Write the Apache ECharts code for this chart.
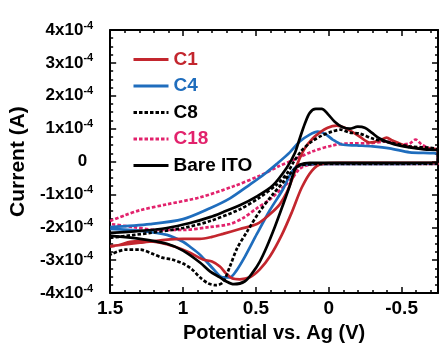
<!DOCTYPE html>
<html><head><meta charset="utf-8">
<script src="https://cdn.jsdelivr.net/npm/echarts@6/dist/echarts.min.js"></script>
<style>html,body{margin:0;padding:0;background:#fff}#c{width:439px;height:348px}</style>
</head><body><div id="c"></div><script>
// Potential (V) vs current (units of 1e-4 A); each loop: forward branch 1.5 -> -0.75, then return
const c1 = [[1.5,-2.57],[1.295,-2.47],[1.123,-2.38],[1.0,-2.35],[0.884,-2.35],[0.801,-2.29],[0.726,-2.20],[0.610,-2.05],[0.493,-1.90],[0.404,-1.60],[0.336,-1.30],[0.288,-0.94],[0.247,-0.49],[0.212,-0.04],[0.164,0.40],[0.110,0.70],[0.062,0.88],[0.007,1.03],[-0.055,1.09],[-0.110,1.03],[-0.158,0.91],[-0.212,0.76],[-0.281,0.58],[-0.349,0.64],[-0.397,0.73],[-0.438,0.64],[-0.521,0.49],[-0.623,0.40],[-0.75,0.34],
  [-0.75,-0.04],[-0.486,-0.04],[-0.075,-0.04],[0.048,-0.07],[0.116,-0.28],[0.185,-0.79],[0.253,-1.54],[0.322,-2.23],[0.404,-2.89],[0.473,-3.28],[0.541,-3.52],[0.610,-3.58],[0.664,-3.55],[0.705,-3.40],[0.747,-3.19],[0.801,-3.04],[0.863,-2.98],[0.952,-2.77],[1.055,-2.59],[1.158,-2.47],[1.260,-2.41],[1.363,-2.44],[1.432,-2.53],[1.5,-2.59]];
const c4 = [[1.5,-1.99],[1.226,-1.90],[1.0,-1.75],[0.815,-1.42],[0.678,-1.12],[0.541,-0.70],[0.438,-0.37],[0.356,-0.07],[0.267,0.28],[0.199,0.61],[0.130,0.82],[0.075,0.91],[0.027,0.85],[-0.027,0.67],[-0.089,0.52],[-0.192,0.49],[-0.301,0.46],[-0.418,0.40],[-0.555,0.28],[-0.75,0.22],
  [-0.75,-0.04],[-0.486,-0.07],[-0.007,-0.07],[0.199,-0.10],[0.253,-0.31],[0.315,-0.85],[0.404,-1.48],[0.493,-2.20],[0.575,-2.89],[0.637,-3.34],[0.678,-3.52],[0.726,-3.52],[0.795,-3.25],[0.884,-2.83],[0.952,-2.59],[1.0,-2.44],[1.110,-2.23],[1.295,-2.11],[1.5,-2.05]];
const c8 = [[1.5,-2.32],[1.226,-2.17],[1.0,-2.02],[0.815,-1.81],[0.610,-1.45],[0.473,-1.09],[0.356,-0.70],[0.288,-0.37],[0.240,-0.01],[0.185,0.34],[0.116,0.61],[0.048,0.79],[-0.021,0.91],[-0.082,0.97],[-0.144,0.88],[-0.212,0.85],[-0.301,0.70],[-0.418,0.58],[-0.555,0.46],[-0.75,0.34],
  [-0.75,-0.07],[-0.349,-0.07],[0.062,-0.07],[0.199,-0.13],[0.253,-0.31],[0.315,-0.64],[0.384,-1.00],[0.473,-1.51],[0.562,-2.14],[0.630,-2.65],[0.678,-3.19],[0.726,-3.67],[0.774,-3.76],[0.829,-3.70],[0.884,-3.52],[0.938,-3.28],[1.0,-3.10],[1.075,-2.98],[1.144,-2.92],[1.212,-2.80],[1.295,-2.68],[1.397,-2.68],[1.5,-2.83]];
const c18 = [[1.5,-1.81],[1.397,-1.63],[1.295,-1.48],[1.110,-1.30],[0.884,-1.09],[0.658,-0.76],[0.473,-0.43],[0.336,-0.13],[0.247,0.04],[0.110,0.31],[-0.027,0.49],[-0.144,0.55],[-0.260,0.55],[-0.397,0.61],[-0.486,0.52],[-0.555,0.55],[-0.596,0.67],[-0.637,0.52],[-0.692,0.40],[-0.75,0.34],
  [-0.75,-0.07],[-0.075,-0.07],[0.130,-0.10],[0.199,-0.22],[0.247,-0.49],[0.315,-0.79],[0.404,-1.15],[0.493,-1.42],[0.589,-1.72],[0.678,-1.90],[0.815,-1.99],[1.0,-2.08],[1.178,-2.08],[1.342,-1.99],[1.5,-1.90]];
const bareITO = [[1.5,-2.17],[1.295,-2.11],[1.110,-2.02],[0.952,-1.87],[0.815,-1.69],[0.726,-1.54],[0.610,-1.33],[0.493,-1.06],[0.384,-0.73],[0.288,-0.19],[0.233,0.25],[0.199,0.70],[0.164,1.15],[0.130,1.48],[0.089,1.60],[0.048,1.60],[0.007,1.45],[-0.041,1.21],[-0.089,1.06],[-0.144,1.00],[-0.199,1.06],[-0.247,1.03],[-0.295,0.88],[-0.349,0.70],[-0.452,0.52],[-0.555,0.43],[-0.658,0.37],[-0.75,0.34],
  [-0.75,-0.03],[-0.486,-0.04],[-0.144,-0.04],[0.130,-0.04],[0.199,-0.10],[0.233,-0.25],[0.267,-0.73],[0.315,-1.33],[0.370,-1.99],[0.425,-2.59],[0.473,-3.04],[0.521,-3.37],[0.575,-3.64],[0.651,-3.73],[0.705,-3.64],[0.747,-3.52],[0.815,-3.34],[0.884,-3.07],[1.0,-2.71],[1.110,-2.50],[1.295,-2.35],[1.5,-2.26]];

const legendNames = ['C1','C4','C8','C18','Bare ITO'];
const xMajorTicks = [1.5, 1, 0.5, 0, -0.5];
const xMinorTicks = [1.4,1.3,1.2,1.1,0.9,0.8,0.7,0.6,0.4,0.3,0.2,0.1,-0.1,-0.2,-0.3,-0.4,-0.6,-0.7];

const FONT = "'Liberation Sans', Arial, sans-serif";
const colors = {C1:'#c3262e', C4:'#1f6dbd', C8:'#000000', C18:'#e2226c', 'Bare ITO':'#000000'};

function xAxisCfg(pos, major, withLine) {
  return {
    type:'value', position:pos, inverse:true, min:-0.75, max:1.5, gridIndex:0,
    axisLine:{show:withLine, onZero:false, lineStyle:{color:'#000', width:2}},
    axisTick:{show:true, inside:true, length: major?6:3, customValues: major?xMajorTicks:xMinorTicks, lineStyle:{color:'#000', width:1.5}},
    axisLabel:{show: major && pos==='bottom', customValues:xMajorTicks, margin:6, color:'#000', fontFamily:FONT, fontWeight:'bold', fontSize:19,
      formatter: v => String(v)},
    splitLine:{show:false},
    name: (major && pos==='bottom') ? 'Potential vs. Ag (V)' : '',
    nameLocation:'middle', nameGap:26,
    nameTextStyle:{color:'#000', fontFamily:FONT, fontWeight:'bold', fontSize:20}
  };
}
function yAxisCfg(pos) {
  const left = pos==='left';
  return {
    type:'value', position:pos, min:-4, max:4, interval:1,
    axisLine:{show:true, onZero:false, lineStyle:{color:'#000', width:2}},
    axisTick:{show:true, inside:true, length:6, lineStyle:{color:'#000', width:1.5}},
    minorTick:{show:true, splitNumber:4, length:3, lineStyle:{color:'#000', width:1.5}},
    axisLabel:{show:left, margin:17, color:'#000',
      formatter: v => v===0 ? '{z|0}' : '{m|' + v + 'x10}{s|-4}',
      rich:{
        m:{fontFamily:FONT, fontWeight:'bold', fontSize:17, color:'#000', lineHeight:20},
        z:{fontFamily:FONT, fontWeight:'bold', fontSize:17, color:'#000', lineHeight:20, padding:[0,6,0,0]},
        s:{fontFamily:FONT, fontWeight:'bold', fontSize:11, color:'#000', verticalAlign:'top', lineHeight:20, padding:[0,0,8,0]}
      }},
    splitLine:{show:false},
    name: left ? 'Current (A)' : '',
    nameLocation:'middle', nameGap:73, nameRotate:90,
    nameTextStyle:{color:'#000', fontFamily:FONT, fontWeight:'bold', fontSize:21}
  };
}

const chart = echarts.init(document.getElementById('c'), null, {renderer:'canvas'});
function lineSeries(name, data, dashed) {
  return {
    name, type:'line', data, xAxisIndex:0, yAxisIndex:0, symbol:'none', smooth:0.3,
    lineStyle:{color:colors[name], width:2.7, type: dashed ? [3.5,2] : 'solid'},
    itemStyle:{color:colors[name]}
  };
}
chart.setOption({
  backgroundColor:'#fff',
  animation:false,
  grid:{left:110, right:1, top:30, bottom:51, containLabel:false},
  legend:{
    orient:'vertical', left:127, top:45, itemWidth:35, itemHeight:14, itemGap:7.5,
    itemStyle:{opacity:0},
    lineStyle:{width:3},
    textStyle:{fontFamily:FONT, fontWeight:'bold', fontSize:19},
    data: legendNames.map(n => ({name:n, textStyle:{color:colors[n], fontFamily:FONT, fontWeight:'bold', fontSize:19}}))
  },
  xAxis:[xAxisCfg('bottom',true,true), xAxisCfg('bottom',false,false), xAxisCfg('top',true,true), xAxisCfg('top',false,false)],
  yAxis:[yAxisCfg('left'), yAxisCfg('right')],
  series:[
    lineSeries('C18', c18, true),
    lineSeries('C4', c4, false),
    lineSeries('C1', c1, false),
    lineSeries('C8', c8, true),
    lineSeries('Bare ITO', bareITO, false)
  ]
});
</script></body></html>
